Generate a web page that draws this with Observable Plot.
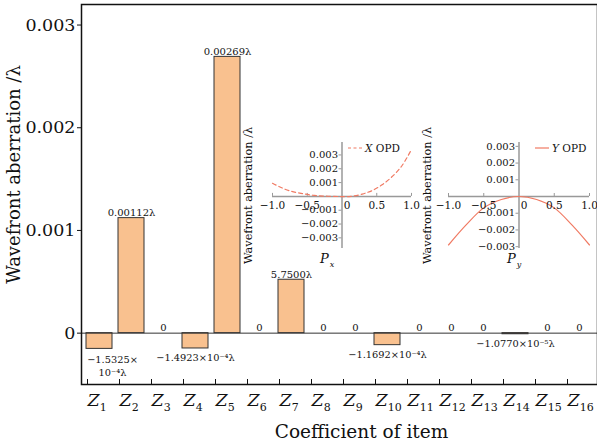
<!DOCTYPE html>
<html><head><meta charset="utf-8">
<script src="https://cdn.jsdelivr.net/npm/d3@7"></script>
<script src="https://cdn.jsdelivr.net/npm/@observablehq/plot@0.6"></script>
<style>
body{margin:0;background:#fff;}
#wrap{position:relative;width:597px;height:442px;overflow:hidden;}
#wrap svg{position:absolute;}
</style></head><body><div id="wrap"></div>
<script>
// ---- data ----
const items = ["Z1","Z2","Z3","Z4","Z5","Z6","Z7","Z8","Z9","Z10","Z11","Z12","Z13","Z14","Z15","Z16"];
const coefficients = [-1.5325e-4, 0.00112, 0, -1.4923e-4, 0.00269, 0, 0.00052, 0, 0, -1.1692e-4, 0, 0, 0, -1.077e-5, 0, 0];
const valueLabels = ["−1.5325×\n10⁻⁴λ", "0.00112λ", "0", "−1.4923×10⁻⁴λ", "0.00269λ", "0", "5.7500λ", "0", "0", "−1.1692×10⁻⁴λ", "0", "0", "0", "−1.0770×10⁻⁵λ", "0", "0"];
const yTicks = [0, 0.001, 0.002, 0.003];
const insetXTicks = [-1, -0.5, 0, 0.5, 1];
const insetYTicks = [-0.003, -0.002, -0.001, 0.001, 0.002, 0.003];
const xOpdPupil = [-1, -0.9, -0.76, -0.59, -0.4, -0.2, 0, 0.13, 0.29, 0.43, 0.57, 0.71, 0.86, 1];
const xOpdValue = [0.00095, 0.0007, 0.00041, 0.00022, 0.00007, 0.00001, -0.00001, 0, 0.00017, 0.00041, 0.00082, 0.00138, 0.0022, 0.0034];
const yOpdPupil = [-1, -0.75, -0.5, -0.25, 0, 0.25, 0.5, 0.75, 1];
const yOpdValue = [-0.0029, -0.0017, -0.00068, -0.00018, 0, -0.00018, -0.00068, -0.0017, -0.0029];

const FONT = "'DejaVu Serif', 'Liberation Serif', serif";
const wrap = document.getElementById("wrap");

// ---- main chart ----
const mainData = items.map((item, i) => ({item, value: coefficients[i], label: valueLabels[i]}));
const fmtMain = d => d === 0 ? "0" : d3.format(".3f")(d);
const main = Plot.plot({
  width: 597, height: 442,
  marginLeft: 81, marginRight: 0, marginTop: 4, marginBottom: 58,
  style: {fontFamily: FONT, color: "#111", background: "white", overflow: "visible"},
  x: {domain: items, paddingInner: 0.2, paddingOuter: 0.07, label: null},
  y: {domain: [-0.0005, 0.0032], label: null},
  marks: [
    Plot.barY(mainData, {x: "item", y: "value", fill: "#f9c18f", stroke: "#333", strokeWidth: 1}),
    Plot.ruleY([0], {stroke: "#333", strokeWidth: 1}),
    Plot.frame({stroke: "#111", strokeWidth: 1.5}),
    Plot.axisY(yTicks, {tickSize: 4, tickPadding: 2, fontSize: 17.5, tickFormat: fmtMain, label: null}),
    Plot.axisX({tickSize: -5, tickPadding: 14, fontSize: 17.5, label: null, textAnchor: "start", dx: -12}),
    Plot.text(mainData.filter(d => d.value >= 0), {x: "item", y: "value", text: "label", lineAnchor: "bottom", dy: -2, fontSize: 10}),
    Plot.text(mainData.filter((d, i) => d.value < 0 && i > 0), {x: "item", y: "value", text: "label", lineAnchor: "top", dy: 6, fontSize: 9.8}),
    Plot.text(mainData.slice(0, 1), {x: "item", y: "value", text: "label", lineAnchor: "top", dy: 4, dx: 13, fontSize: 9.8, lineHeight: 1.4}),
    Plot.text(["Coefficient of item"], {frameAnchor: "bottom", lineAnchor: "middle", textAnchor: "middle", dy: 48, dx: 22, fontSize: 18.5}),
    Plot.text(["Wavefront aberration /λ"], {frameAnchor: "left", textAnchor: "middle", lineAnchor: "middle", rotate: -90, dx: -67, dy: -20, fontSize: 18})
  ]
});
d3.select(main).selectAll('g[aria-label="x-axis tick label"] text').each(function () {
  const t = this.textContent;
  const el = d3.select(this);
  el.text(null);
  el.append("tspan").attr("font-style", "italic").text(t[0]);
  el.append("tspan").attr("font-size", 11).attr("dy", "0.45em").text(t.slice(1));
});
main.style.left = "0px"; main.style.top = "0px";
wrap.appendChild(main);

// ---- insets ----
function inset({pupil, values, dashed, letter, sub, width, mL, mR, yDomain, yLabelDx, legendX, pX}) {
  const pts = pupil.map((p, i) => ({p, w: values[i]}));
  const H = 145, mT = 12, mB = 27;
  const ppuY = (yDomain[1] - yDomain[0]) / (H - mT - mB);
  const ppuX = 2 / (width - mL - mR);
  const fx = d => d === 0 ? "0" : d3.format(".1f")(d);
  const fy = d => d3.format(".3f")(d);
  const color = "#f07a63";
  const extras = () => {
    const g = d3.create("svg:g").attr("font-family", FONT).attr("fill", "#111").attr("text-anchor", "start");
    g.append("line").attr("x1", legendX).attr("x2", legendX + 14).attr("y1", 18).attr("y2", 18)
      .attr("stroke", color).attr("stroke-width", 1.2).attr("stroke-dasharray", dashed ? "3,2.5" : null);
    const t = g.append("text").attr("x", legendX + 17).attr("y", 18).attr("dy", "0.35em").attr("font-size", 10.5).attr("text-anchor", "start");
    t.append("tspan").attr("font-style", "italic").text(letter);
    t.append("tspan").text(" OPD");
    const p = g.append("text").attr("x", pX).attr("y", 133).attr("font-size", 13).attr("text-anchor", "start");
    p.append("tspan").attr("font-style", "italic").text("P");
    p.append("tspan").attr("font-style", "italic").attr("font-size", 8).attr("dy", "0.45em").attr("dx", 1).text(sub);
    return g.node();
  };
  return Plot.plot({
    width, height: H, marginLeft: mL, marginRight: mR, marginTop: mT, marginBottom: mB,
    style: {fontFamily: FONT, color: "#111", background: "transparent", overflow: "visible"},
    x: {domain: [-1, 1], axis: null},
    y: {domain: yDomain, axis: null},
    marks: [
      Plot.ruleY([0], {stroke: "#999", strokeWidth: 1.5}),
      Plot.ruleX([0], {stroke: "#999", strokeWidth: 1.5}),
      Plot.ruleX(insetXTicks.filter(d => d !== 0), {x: d => d, y1: 0, y2: 3 * ppuY, stroke: "#999"}),
      Plot.ruleY(insetYTicks, {y: d => d, x1: 0, x2: -3 * ppuX, stroke: "#999"}),
      Plot.line(pts, {x: "p", y: "w", stroke: color, strokeWidth: 1.2, strokeDasharray: dashed ? "4,3" : null, curve: "catmull-rom"}),
      Plot.text(insetYTicks, {x: 0, y: d => d, text: fy, textAnchor: "end", dx: -4, fontSize: 10}),
      Plot.text(insetXTicks.filter(d => d !== 0), {x: d => d, y: 0, text: fx, dy: 9, fontSize: 10.5}),
      Plot.text([0], {x: d => d, y: 0, text: fx, dy: 9, dx: 5, fontSize: 10.5}),
      Plot.text(["Wavefront aberration /λ"], {frameAnchor: "left", textAnchor: "middle", lineAnchor: "middle", rotate: -90, dx: yLabelDx, fontSize: 11.3}),
      extras
    ]
  });
}

const left = inset({pupil: xOpdPupil, values: xOpdValue, dashed: true, letter: "X", sub: "x",
  width: 180, mL: 32, mR: 9, yDomain: [-0.00377, 0.0039], yLabelDx: -24, legendX: 108, pX: 80});
left.style.left = "240px"; left.style.top = "130px";
wrap.appendChild(left);

const right = inset({pupil: yOpdPupil, values: yOpdValue, dashed: false, letter: "Y", sub: "y",
  width: 177, mL: 28, mR: 8, yDomain: [-0.00311, 0.00323], yLabelDx: -21, legendX: 115, pX: 87});
right.style.left = "420px"; right.style.top = "130px";
wrap.appendChild(right);
</script></body></html>
